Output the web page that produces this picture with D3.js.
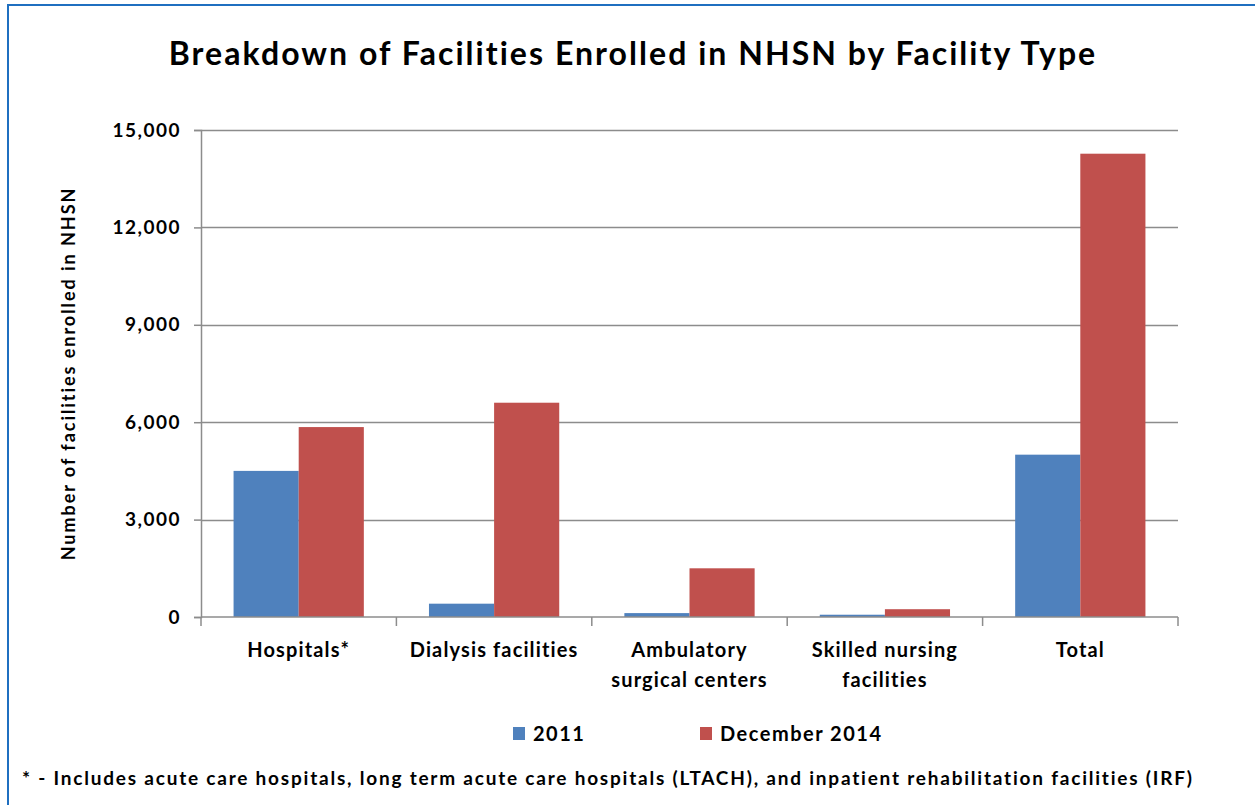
<!DOCTYPE html>
<html>
<head>
<meta charset="utf-8">
<script src="https://cdn.jsdelivr.net/npm/d3@7"></script>
<style>
  html, body { margin: 0; padding: 0; background: #fff; }
  svg { display: block; }
  text { font-family: Lato, "Open Sans", sans-serif; font-weight: bold; fill: #000; }
</style>
</head>
<body>
<svg id="chart" width="1255" height="805"></svg>
<script>
const categories = [["Hospitals*"], ["Dialysis facilities"], ["Ambulatory", "surgical centers"], ["Skilled nursing", "facilities"], ["Total"]];
const seriesNames = ["2011", "December 2014"];
const values2011 = [4500, 410, 120, 70, 5000];
const valuesDec2014 = [5850, 6600, 1500, 240, 14270];
const yTicks = [0, 3000, 6000, 9000, 12000, 15000];
const colors = ["#4F81BD", "#C0504D"];

const svg = d3.select("#chart");
const W = 1255, H = 805;
const margin = { left: 201, right: 1255 - 1178, top: 130, bottom: 805 - 617 };

// spread letters of a text so that it spans the given width
function spacingFor(node, target) {
  const n = node.textContent.length;
  const len = node.getComputedTextLength();
  return (target - len) / Math.max(1, n - 1);
}

// frame
svg.append("rect").attr("x", 0).attr("y", 0).attr("width", W).attr("height", H).attr("fill", "#fff");
svg.append("line").attr("x1", 7).attr("x2", W).attr("y1", 5).attr("y2", 5).attr("stroke", "#1F6FC0").attr("stroke-width", 2);
svg.append("line").attr("x1", 8).attr("x2", 8).attr("y1", 4).attr("y2", H).attr("stroke", "#1F6FC0").attr("stroke-width", 2);

const idx = d3.range(categories.length);
const x = d3.scaleBand().domain(idx).range([margin.left, W - margin.right]).paddingInner(0).paddingOuter(0);
const y = d3.scaleLinear().domain([0, 15000]).range([H - margin.bottom, margin.top]);
const x1 = d3.scaleBand().domain([0, 1]).range([0, x.bandwidth()]).paddingInner(0).paddingOuter(0.5);

// gridlines
svg.append("g").selectAll("line").data(yTicks.filter(d => d > 0)).join("line")
  .attr("x1", margin.left).attr("x2", W - margin.right)
  .attr("y1", d => Math.round(y(d)) + 0.5).attr("y2", d => Math.round(y(d)) + 0.5)
  .attr("stroke", "#8C8C8C").attr("stroke-width", 1.5);

// bars
const data = idx.map(i => [values2011[i], valuesDec2014[i]]);
const groups = svg.append("g").selectAll("g").data(data).join("g")
  .attr("transform", (d, i) => `translate(${x(i)},0)`);
groups.selectAll("rect").data(d => d.map((v, s) => ({ v, s }))).join("rect")
  .attr("x", d => x1(d.s))
  .attr("width", x1.bandwidth())
  .attr("y", d => y(d.v))
  .attr("height", d => y(0) - y(d.v))
  .attr("fill", d => colors[d.s]);

// y axis
const yAxis = d3.axisLeft(y).tickValues(yTicks).tickSize(7).tickPadding(13).tickFormat(d3.format(","));
const gy = svg.append("g").attr("transform", `translate(${margin.left},0)`).call(yAxis);
gy.select(".domain").attr("stroke", "#8C8C8C").attr("stroke-width", 1.5);
gy.selectAll(".tick line").attr("stroke", "#8C8C8C").attr("stroke-width", 1.5);
const tickTexts = gy.selectAll(".tick text").style("font-size", "19px").style("font-family", "Lato, sans-serif").attr("fill", "#000");
const tickLs = spacingFor(gy.select(".tick:last-of-type text").node(), 67);
tickTexts.style("letter-spacing", tickLs + "px");

// x axis
const xTickScale = d3.scaleLinear().domain([0, categories.length]).range([margin.left, W - margin.right]);
const gx = svg.append("g").attr("transform", `translate(0,${y(0)})`);
gx.append("line").attr("x1", margin.left).attr("x2", W - margin.right).attr("y1", 0).attr("y2", 0)
  .attr("stroke", "#8C8C8C").attr("stroke-width", 1.5);
gx.selectAll("line.tk").data(d3.range(categories.length + 1)).join("line").attr("class", "tk")
  .attr("x1", d => xTickScale(d)).attr("x2", d => xTickScale(d)).attr("y1", 0).attr("y2", 9)
  .attr("stroke", "#8C8C8C").attr("stroke-width", 1.5);
const labels = gx.selectAll("text.cat").data(categories).join("text").attr("class", "cat")
  .attr("text-anchor", "middle")
  .attr("transform", (d, i) => `translate(${x(i) + x.bandwidth() / 2},0)`)
  .style("font-size", "20px");
const tspans = labels.selectAll("tspan").data(d => d).join("tspan")
  .attr("x", 0).attr("y", (d, j) => 40 + j * 30).text(d => d);
const catLs = spacingFor(tspans.filter(d => d === "Dialysis facilities").node(), 168);
labels.style("letter-spacing", catLs + "px");

// y axis title
const yt = svg.append("text")
  .attr("transform", `translate(75,${(y(0) + y(15000)) / 2}) rotate(-90)`)
  .attr("text-anchor", "middle")
  .style("font-size", "18px")
  .text("Number of facilities enrolled in NHSN");
yt.style("letter-spacing", spacingFor(yt.node(), 372) + "px");

// title
const title = svg.append("text").attr("x", 633).attr("y", 65).attr("text-anchor", "middle")
  .style("font-size", "32px")
  .text("Breakdown of Facilities Enrolled in NHSN by Facility Type");
title.style("letter-spacing", spacingFor(title.node(), 927) + "px");

// legend
const legendX = [513, 700];
const lg = svg.append("g").selectAll("g").data(seriesNames).join("g")
  .attr("transform", (d, i) => `translate(${legendX[i]},727)`);
lg.append("rect").attr("width", 12).attr("height", 13).attr("fill", (d, i) => colors[i]);
const lgText = lg.append("text").attr("x", 20).attr("y", 14).style("font-size", "20px").text(d => d);
const lgLs = spacingFor(lgText.filter(d => d === "December 2014").node(), 161);
lgText.style("letter-spacing", lgLs + "px");

// footnote
const foot = svg.append("text").attr("x", 22).attr("y", 785).style("font-size", "19px")
  .text("* - Includes acute care hospitals, long term acute care hospitals (LTACH), and inpatient rehabilitation facilities (IRF)");
foot.style("letter-spacing", spacingFor(foot.node(), 1171) + "px");
</script>
</body>
</html>
